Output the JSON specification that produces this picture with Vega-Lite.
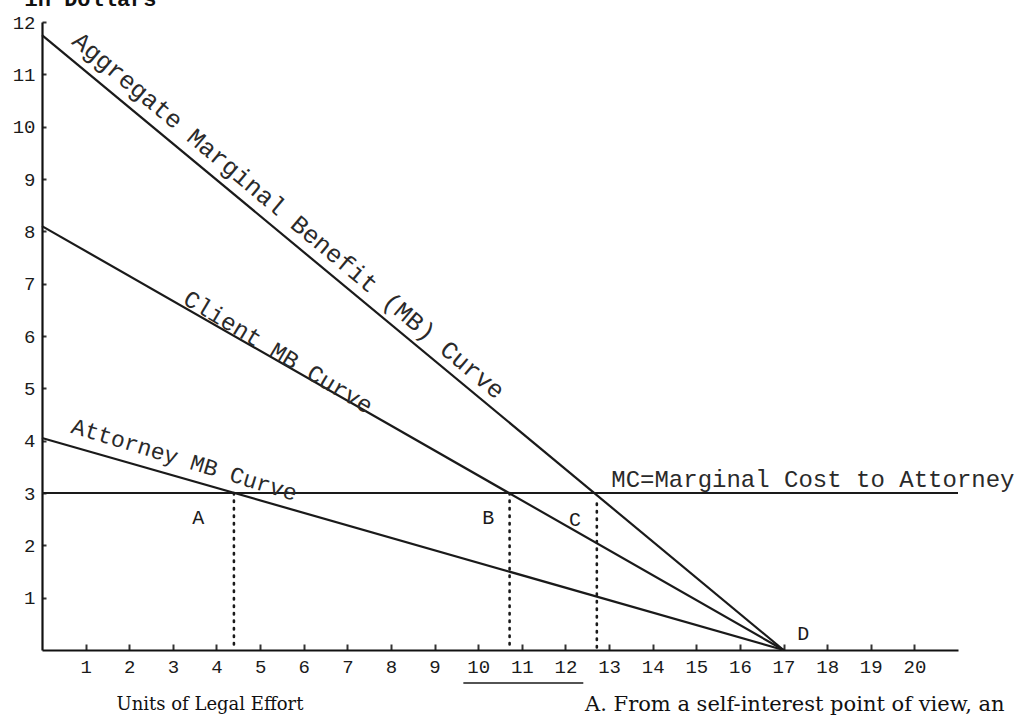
{
  "$schema": "https://vega.github.io/schema/vega-lite/v6.json",
  "autosize": "none",
  "width": 916,
  "height": 628,
  "padding": {"left": 42, "top": 22, "right": 62, "bottom": 75},
  "background": "#ffffff",
  "config": {"view": {"stroke": null}},
  "datasets": {
    "curves": [
      {"curve": "Aggregate MB", "x": 0, "y": 11.75},
      {"curve": "Aggregate MB", "x": 17, "y": 0},
      {"curve": "Client MB", "x": 0, "y": 8.1},
      {"curve": "Client MB", "x": 17, "y": 0},
      {"curve": "Attorney MB", "x": 0, "y": 4.05},
      {"curve": "Attorney MB", "x": 17, "y": 0},
      {"curve": "MC", "x": 0, "y": 3.0},
      {"curve": "MC", "x": 21, "y": 3.0}
    ],
    "drops": [
      {"point": "A", "x": 4.4, "y": 3.0},
      {"point": "B", "x": 10.72, "y": 3.0},
      {"point": "C", "x": 12.72, "y": 2.8}
    ],
    "points": [
      {"label": "A", "x": 3.58, "y": 2.52},
      {"label": "B", "x": 10.23, "y": 2.52},
      {"label": "C", "x": 12.22, "y": 2.48},
      {"label": "D", "x": 17.45, "y": 0.31}
    ],
    "curveLabels": [
      {"curve": "Aggregate MB", "label": "Aggregate Marginal Benefit (MB) Curve", "x": 5.65, "y": 8.3},
      {"curve": "Client MB", "label": "Client MB Curve", "x": 5.41, "y": 5.68},
      {"curve": "Attorney MB", "label": "Attorney MB Curve", "x": 3.26, "y": 3.63},
      {"curve": "MC", "label": "MC=Marginal Cost to Attorney", "x": 13.05, "y": 3.25}
    ],
    "notes": [
      {"note": "title", "label": "in Dollars", "x": -0.4, "y": 12.3},
      {"note": "xtitle", "label": "Units of Legal Effort", "x": 3.85, "y": -1.05},
      {"note": "body", "label": "A.   From a self-interest point of view, an", "x": 12.45, "y": -1.05}
    ],
    "separator": [
      {"x": 9.66, "x2": 12.41, "y": -0.63}
    ]
  },
  "layer": [
    {
      "data": {"name": "curves"},
      "mark": {"type": "line", "color": "#1a1a1a", "strokeWidth": 2.2, "clip": false},
      "encoding": {
        "x": {
          "field": "x", "type": "quantitative",
          "scale": {"domain": [0, 21], "nice": false, "zero": false},
          "axis": {
            "title": null,
            "values": [1, 2, 3, 4, 5, 6, 7, 8, 9, 10, 11, 12, 13, 14, 15, 16, 17, 18, 19, 20],
            "grid": false,
            "domainColor": "#111111", "domainWidth": 2.2,
            "tickColor": "#333333", "tickSize": -6, "tickWidth": 2,
            "labelFont": "Liberation Mono", "labelFontSize": 19, "labelColor": "#1a1a1a",
            "labelPadding": 13, "labelFlush": false
          }
        },
        "y": {
          "field": "y", "type": "quantitative",
          "scale": {"domain": [0, 12], "nice": false, "zero": false},
          "axis": {
            "title": null,
            "values": [1, 2, 3, 4, 5, 6, 7, 8, 9, 10, 11, 12],
            "grid": false,
            "domainColor": "#111111", "domainWidth": 2.2,
            "tickColor": "#333333", "tickSize": -4, "tickWidth": 2,
            "labelFont": "Liberation Mono", "labelFontSize": 19, "labelColor": "#1a1a1a",
            "labelPadding": 11, "labelFlush": false
          }
        },
        "detail": {"field": "curve", "type": "nominal"}
      }
    },
    {
      "data": {"name": "drops"},
      "mark": {"type": "rule", "color": "#1a1a1a", "strokeWidth": 2.6, "strokeDash": [1.5, 6], "strokeCap": "round"},
      "encoding": {
        "x": {"field": "x", "type": "quantitative"},
        "y": {"field": "y", "type": "quantitative"},
        "y2": {"datum": 0}
      }
    },
    {
      "data": {"name": "points"},
      "mark": {"type": "text", "font": "Liberation Mono", "fontSize": 20, "color": "#1a1a1a", "align": "center", "baseline": "middle"},
      "encoding": {
        "x": {"field": "x", "type": "quantitative"},
        "y": {"field": "y", "type": "quantitative"},
        "text": {"field": "label"}
      }
    },
    {
      "data": {"name": "curveLabels"},
      "transform": [{"filter": "datum.curve === 'Aggregate MB'"}],
      "mark": {"type": "text", "font": "Liberation Mono", "fontSize": 25, "color": "#2a2a2a", "align": "center", "baseline": "middle", "angle": 40},
      "encoding": {
        "x": {"field": "x", "type": "quantitative"},
        "y": {"field": "y", "type": "quantitative"},
        "text": {"field": "label"}
      }
    },
    {
      "data": {"name": "curveLabels"},
      "transform": [{"filter": "datum.curve === 'Client MB'"}],
      "mark": {"type": "text", "font": "Liberation Mono", "fontSize": 24, "color": "#2a2a2a", "align": "center", "baseline": "middle", "angle": 31},
      "encoding": {
        "x": {"field": "x", "type": "quantitative"},
        "y": {"field": "y", "type": "quantitative"},
        "text": {"field": "label"}
      }
    },
    {
      "data": {"name": "curveLabels"},
      "transform": [{"filter": "datum.curve === 'Attorney MB'"}],
      "mark": {"type": "text", "font": "Liberation Mono", "fontSize": 23, "color": "#2a2a2a", "align": "center", "baseline": "middle", "angle": 17},
      "encoding": {
        "x": {"field": "x", "type": "quantitative"},
        "y": {"field": "y", "type": "quantitative"},
        "text": {"field": "label"}
      }
    },
    {
      "data": {"name": "curveLabels"},
      "transform": [{"filter": "datum.curve === 'MC'"}],
      "mark": {"type": "text", "font": "Liberation Mono", "fontSize": 24, "color": "#2a2a2a", "align": "left", "baseline": "middle"},
      "encoding": {
        "x": {"field": "x", "type": "quantitative"},
        "y": {"field": "y", "type": "quantitative"},
        "text": {"field": "label"}
      }
    },
    {
      "data": {"name": "notes"},
      "transform": [{"filter": "datum.note === 'title'"}],
      "mark": {"type": "text", "font": "Liberation Mono", "fontWeight": "bold", "fontSize": 22, "color": "#111111", "align": "left", "baseline": "alphabetic"},
      "encoding": {
        "x": {"field": "x", "type": "quantitative"},
        "y": {"field": "y", "type": "quantitative"},
        "text": {"field": "label"}
      }
    },
    {
      "data": {"name": "notes"},
      "transform": [{"filter": "datum.note === 'xtitle'"}],
      "mark": {"type": "text", "font": "DejaVu Serif", "fontSize": 18, "color": "#111111", "align": "center", "baseline": "middle"},
      "encoding": {
        "x": {"field": "x", "type": "quantitative"},
        "y": {"field": "y", "type": "quantitative"},
        "text": {"field": "label"}
      }
    },
    {
      "data": {"name": "notes"},
      "transform": [{"filter": "datum.note === 'body'"}],
      "mark": {"type": "text", "font": "DejaVu Serif", "fontSize": 21, "color": "#111111", "align": "left", "baseline": "middle"},
      "encoding": {
        "x": {"field": "x", "type": "quantitative"},
        "y": {"field": "y", "type": "quantitative"},
        "text": {"field": "label"}
      }
    },
    {
      "data": {"name": "separator"},
      "mark": {"type": "rule", "color": "#1a1a1a", "strokeWidth": 1.5},
      "encoding": {
        "x": {"field": "x", "type": "quantitative"},
        "x2": {"field": "x2"},
        "y": {"field": "y", "type": "quantitative"}
      }
    }
  ]
}
